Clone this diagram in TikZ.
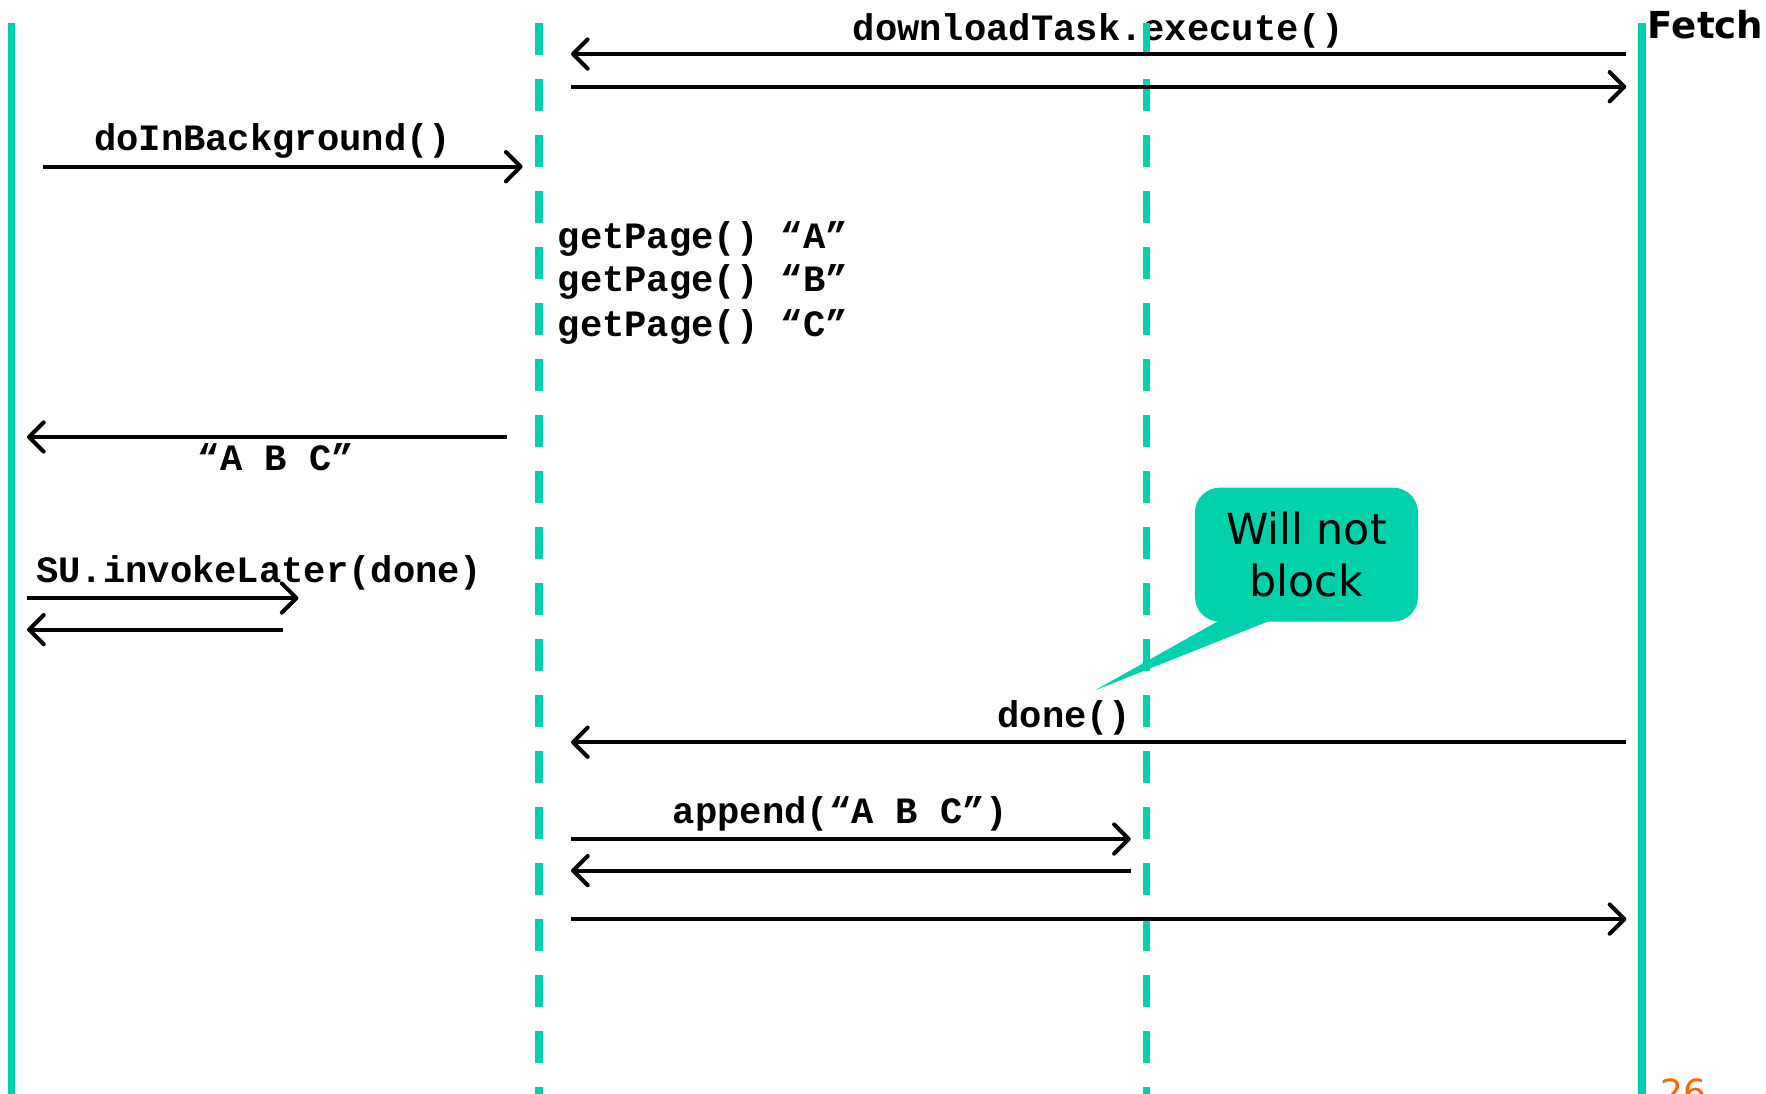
\documentclass[tikz,border=0pt]{standalone}
\usepackage{fontspec}
\setmainfont{DejaVu Sans}
\setsansfont{DejaVu Sans}
\setmonofont{Liberation Mono}
\usetikzlibrary{arrows.meta}
\definecolor{lifeteal}{RGB}{0,209,170}
\definecolor{pgorange}{RGB}{255,102,0}
\begin{document}
\begin{tikzpicture}[x=1pt,y=-1pt,
  life/.style={line width=6.5pt, draw=lifeteal},
  lifedash/.style={life, dash pattern=on 28.4pt off 21.3pt},
  msg/.style={line width=3.6pt, -{Straight Barb[length=13pt,width=26pt,line cap=round,line join=round]}},
  code/.style={font=\fontsize{33}{44}\selectfont\ttfamily\bfseries, inner sep=0pt},
]
\useasboundingbox (0,0) rectangle (1568,971);

% texts
\node[code] (lbl1) at (975,27) {downloadTask.execute()};
\node[code] (lbl2) at (242,125) {doInBackground()};
\node[code, anchor=west] (gp1) at (495,212) {getPage() “A”};
\node[code, anchor=west] (gp2) at (495,250) {getPage() “B”};
\node[code, anchor=west] (gp3) at (495,290) {getPage() “C”};
\node[code] (lbl3) at (245,406) {“A B C”};
\node[code, anchor=west] (lbl4) at (32,509) {SU.invokeLater(done)};
\node[code] (lbl5) at (945,637) {done()};
\node[code] (lbl6) at (746,723) {append(“A B C”)};
\node[font=\fontsize{33}{40}\selectfont\sffamily\bfseries, anchor=west, inner sep=0pt] (fetch) at (1463,22) {Fetch};
\node[font=\fontsize{32}{38}\selectfont\sffamily, text=pgorange, anchor=north west, inner sep=0pt] (pagenum) at (1474,958) {26};

% lifelines
\coordinate (l0t) at (10,20.4);    \coordinate (l0b) at (10,980);
\coordinate (l1t) at (478.6,20.4); \coordinate (l1b) at (478.6,980);
\coordinate (l2t) at (1018,20.4);  \coordinate (l2b) at (1018,980);
\coordinate (l3t) at (1458,20.4);  \coordinate (l3b) at (1458,980);
\draw[life] (l0t) -- (l0b);
\draw[lifedash] (l1t) -- (l1b);
\draw[lifedash] (l2t) -- (l2b);
\draw[life] (l3t) -- (l3b);

% callout
\node[fill=lifeteal, rounded corners=22pt, minimum width=198pt, minimum height=119pt, inner sep=0pt] (callout) at (1160,492.5) {};
\coordinate (tailA) at (1093,545);
\coordinate (tailB) at (1143,545);
\coordinate (tailTip) at (972,613);
\fill[lifeteal] (tailA) -- (tailB) -- (tailTip) -- cycle;
\node[font=\fontsize{38}{46}\selectfont\sffamily, align=center, inner sep=0pt] (calltext) at (callout.center) {Will not\\block};

% messages
\coordinate (m1s) at (1444,48);  \coordinate (m1e) at (507,48);
\coordinate (m2s) at (507,77);   \coordinate (m2e) at (1444,77);
\coordinate (m3s) at (38,148);   \coordinate (m3e) at (464,148);
\coordinate (m4s) at (450,388);  \coordinate (m4e) at (24,388);
\coordinate (m5s) at (24,531);   \coordinate (m5e) at (265,531);
\coordinate (m6s) at (251,559);  \coordinate (m6e) at (24,559);
\coordinate (m7s) at (1444,659); \coordinate (m7e) at (507,659);
\coordinate (m8s) at (507,745);  \coordinate (m8e) at (1004,745);
\coordinate (m9s) at (1004,773); \coordinate (m9e) at (507,773);
\coordinate (m10s) at (507,816); \coordinate (m10e) at (1444,816);
\draw[msg] (m1s) -- (m1e);
\draw[msg] (m2s) -- (m2e);
\draw[msg] (m3s) -- (m3e);
\draw[msg] (m4s) -- (m4e);
\draw[msg] (m5s) -- (m5e);
\draw[msg] (m6s) -- (m6e);
\draw[msg] (m7s) -- (m7e);
\draw[msg] (m8s) -- (m8e);
\draw[msg] (m9s) -- (m9e);
\draw[msg] (m10s) -- (m10e);
\end{tikzpicture}
\end{document}
